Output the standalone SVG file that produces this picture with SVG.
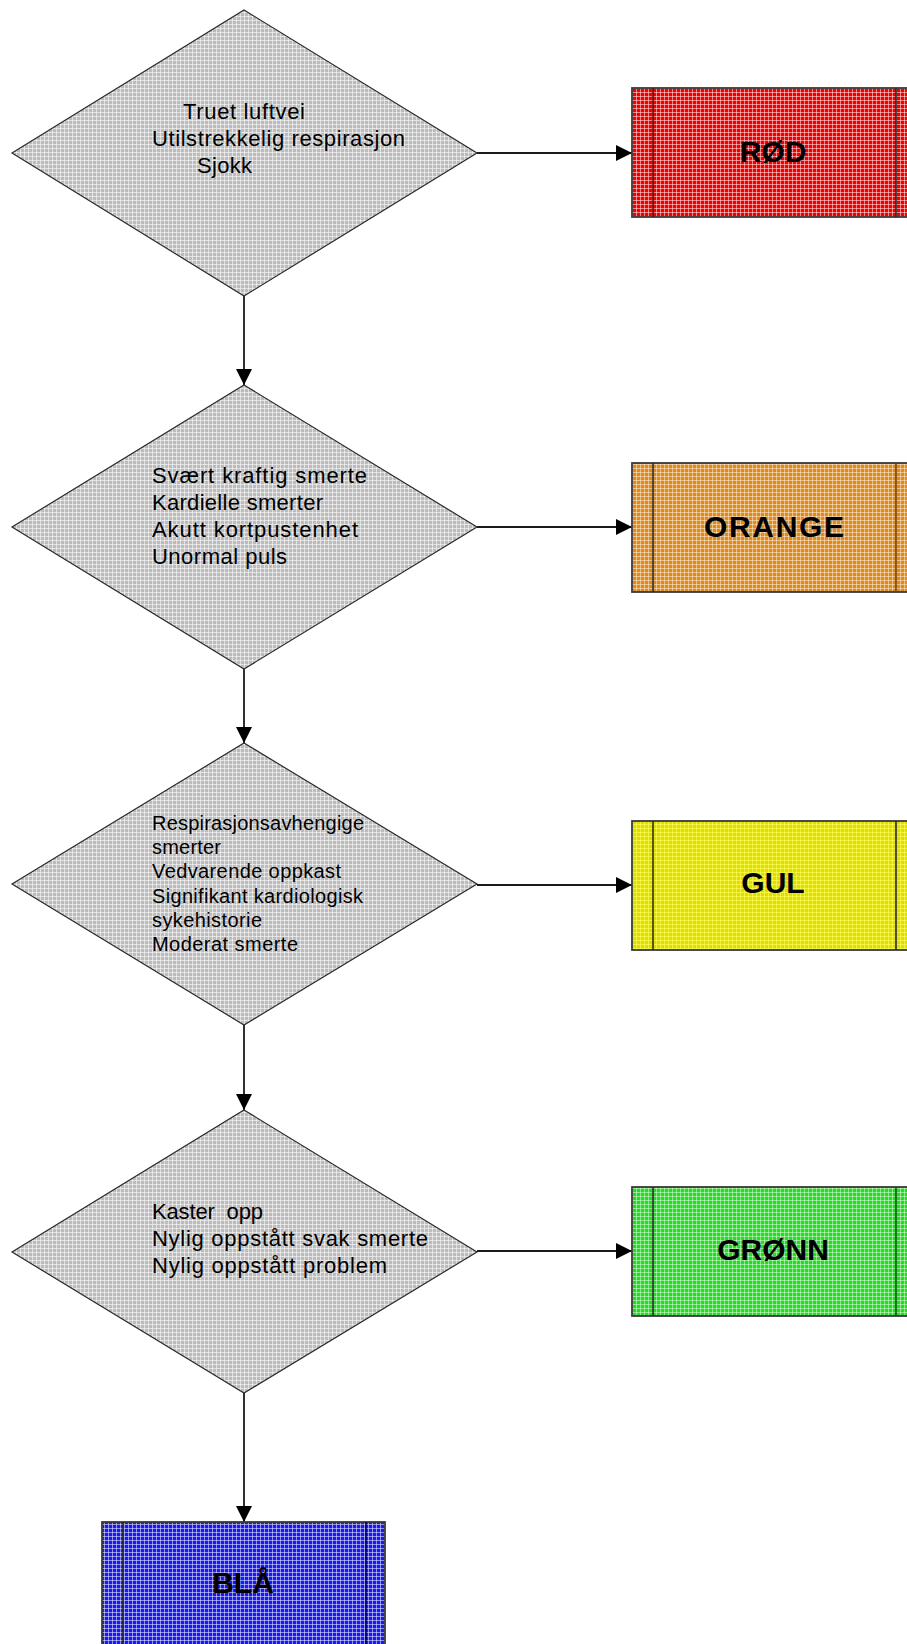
<svg xmlns="http://www.w3.org/2000/svg" width="907" height="1644" viewBox="0 0 907 1644">
<style>
.dia{stroke:#2a2a2a;stroke-width:1.2;fill:url(#pGray)}
.box{stroke:#3a3a3a;stroke-width:1.8}
.inner{stroke:#2a2a2a;stroke-width:1.6;fill:none}
.t{font-family:"Liberation Sans",Arial,sans-serif;font-size:22px;fill:#000}
.s{font-size:20px}
.lbl{font-family:"Liberation Sans",Arial,sans-serif;font-size:30px;font-weight:bold;fill:#000;text-anchor:middle}
.con{stroke:#1a1a1a;stroke-width:1.8;fill:none;marker-end:url(#arr)}
</style>
<defs>
<marker id="arr" markerWidth="16" markerHeight="16" refX="16" refY="8" orient="auto" markerUnits="userSpaceOnUse">
<path d="M0,0 L16,8 L0,16 Z" fill="#000"/>
</marker>
<pattern id="pGray" width="4" height="4" patternUnits="userSpaceOnUse"><rect width="4" height="4" fill="#bcbcbc"/><path d="M0 0.5H4M0.5 0V4" stroke="#fff" stroke-opacity="0.55"/></pattern>
<pattern id="pRed" width="4" height="4" patternUnits="userSpaceOnUse"><rect width="4" height="4" fill="#f20000"/><path d="M0 0.5H4M0.5 0V4" stroke="#fff" stroke-opacity="0.5"/></pattern>
<pattern id="pOrange" width="4" height="4" patternUnits="userSpaceOnUse"><rect width="4" height="4" fill="#e08a1a"/><path d="M0 0.5H4M0.5 0V4" stroke="#fff" stroke-opacity="0.45"/></pattern>
<pattern id="pYellow" width="4" height="4" patternUnits="userSpaceOnUse"><rect width="4" height="4" fill="#dede00"/><path d="M0 0.5H4M0.5 0V4" stroke="#ffff60" stroke-opacity="0.6"/></pattern>
<pattern id="pGreen" width="4" height="4" patternUnits="userSpaceOnUse"><rect width="4" height="4" fill="#22dd22"/><path d="M0 0.5H4M0.5 0V4" stroke="#fff" stroke-opacity="0.45"/></pattern>
<pattern id="pBlue" width="4" height="4" patternUnits="userSpaceOnUse"><rect width="4" height="4" fill="#1a1aee"/><path d="M0 0.5H4M0.5 0V4" stroke="#fff" stroke-opacity="0.5"/></pattern>
</defs>
<rect width="907" height="1644" fill="#fff"/>

<g id="connectors">
<line class="con" x1="477" y1="153" x2="632" y2="153"/>
<line class="con" x1="244" y1="296" x2="244" y2="385"/>
<line class="con" x1="477" y1="527" x2="632" y2="527"/>
<line class="con" x1="244" y1="669" x2="244" y2="743"/>
<line class="con" x1="477" y1="885" x2="632" y2="885"/>
<line class="con" x1="244" y1="1025" x2="244" y2="1110"/>
<line class="con" x1="477" y1="1251" x2="632" y2="1251"/>
<line class="con" x1="244" y1="1393" x2="244" y2="1522"/>
</g>

<g id="d1">
<polygon class="dia" points="244,10 477,153 244,296 12,153"/>
<text class="t" x="183" y="119" textLength="122" lengthAdjust="spacing">Truet luftvei</text>
<text class="t" x="152" y="146" textLength="253" lengthAdjust="spacing">Utilstrekkelig respirasjon</text>
<text class="t" x="197" y="173" textLength="55" lengthAdjust="spacing">Sjokk</text>
</g>

<g id="d2">
<polygon class="dia" points="244,385 477,527 244,669 12,527"/>
<text class="t" x="152" y="483" textLength="215" lengthAdjust="spacing">Svært kraftig smerte</text>
<text class="t" x="152" y="510" textLength="171" lengthAdjust="spacing">Kardielle smerter</text>
<text class="t" x="152" y="537" textLength="206" lengthAdjust="spacing">Akutt kortpustenhet</text>
<text class="t" x="152" y="564" textLength="135" lengthAdjust="spacing">Unormal puls</text>
</g>

<g id="d3">
<polygon class="dia" points="244,743 477,884 244,1025 12,884"/>
<text class="t s" x="152" y="830" textLength="212" lengthAdjust="spacing">Respirasjonsavhengige</text>
<text class="t s" x="152" y="854" textLength="69" lengthAdjust="spacing">smerter</text>
<text class="t s" x="152" y="878" textLength="189" lengthAdjust="spacing">Vedvarende oppkast</text>
<text class="t s" x="152" y="903" textLength="211" lengthAdjust="spacing">Signifikant kardiologisk</text>
<text class="t s" x="152" y="927" textLength="110" lengthAdjust="spacing">sykehistorie</text>
<text class="t s" x="152" y="951" textLength="146" lengthAdjust="spacing">Moderat smerte</text>
</g>

<g id="d4">
<polygon class="dia" points="244,1110 477,1252 244,1393 12,1252"/>
<text class="t" x="152" y="1219" textLength="111" lengthAdjust="spacing" xml:space="preserve">Kaster  opp</text>
<text class="t" x="152" y="1246" textLength="276" lengthAdjust="spacing">Nylig oppstått svak smerte</text>
<text class="t" x="152" y="1273" textLength="235" lengthAdjust="spacing">Nylig oppstått problem</text>
</g>

<g id="rod">
<rect class="box" x="632" y="88" width="285" height="129" fill="url(#pRed)"/>
<line class="inner" x1="653" y1="88" x2="653" y2="217" style="stroke:#700"/>
<line class="inner" x1="896" y1="88" x2="896" y2="217"/>
<text class="lbl" x="773" y="162">RØD</text>
</g>

<g id="orange">
<rect class="box" x="632" y="463" width="285" height="129" fill="url(#pOrange)"/>
<line class="inner" x1="653" y1="463" x2="653" y2="592"/>
<line class="inner" x1="896" y1="463" x2="896" y2="592" style="stroke:#7a4200"/>
<text class="lbl" x="774" y="537" textLength="140" lengthAdjust="spacing">ORANGE</text>
</g>

<g id="gul">
<rect class="box" x="632" y="821" width="285" height="129" fill="url(#pYellow)"/>
<line class="inner" x1="653" y1="821" x2="653" y2="950" style="stroke:#333300"/>
<line class="inner" x1="896" y1="821" x2="896" y2="950"/>
<text class="lbl" x="773" y="893">GUL</text>
</g>

<g id="gronn">
<rect class="box" x="632" y="1187" width="285" height="129" fill="url(#pGreen)"/>
<line class="inner" x1="653" y1="1187" x2="653" y2="1316"/>
<line class="inner" x1="896" y1="1187" x2="896" y2="1316" style="stroke:#005a00"/>
<text class="lbl" x="773" y="1260">GRØNN</text>
</g>

<g id="bla">
<rect class="box" x="102" y="1522" width="283" height="129" fill="url(#pBlue)"/>
<line class="inner" x1="123" y1="1522" x2="123" y2="1651"/>
<line class="inner" x1="366" y1="1522" x2="366" y2="1651" style="stroke:#00006a"/>
<text class="lbl" x="243" y="1593">BLÅ</text>
</g>
</svg>
